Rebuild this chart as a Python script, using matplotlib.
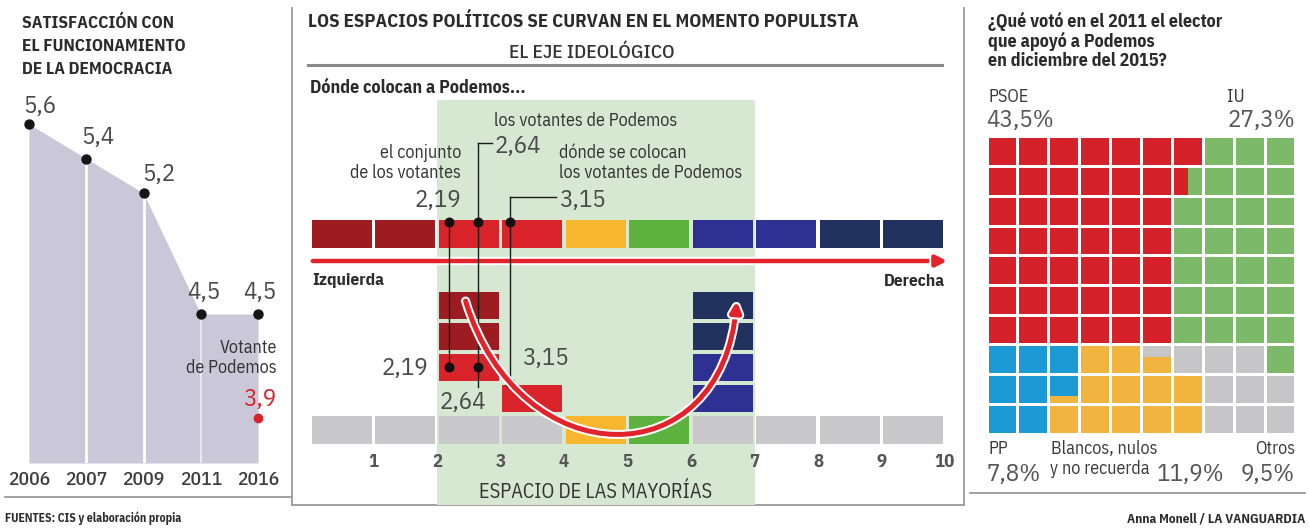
import matplotlib
matplotlib.use('Agg')
import matplotlib.pyplot as plt
from matplotlib.patches import Rectangle, FancyArrowPatch
from matplotlib.path import Path
import matplotlib.patheffects as pe

# ---------------- data ----------------
years = ['2006', '2007', '2009', '2011', '2016']
satisfaction = [5.6, 5.4, 5.2, 4.5, 4.5]
satisfaction_labels = ['5,6', '5,4', '5,2', '4,5', '4,5']
podemos_voter_satisfaction = 3.9
podemos_voter_label = '3,9'

scale_ticks = [1, 2, 3, 4, 5, 6, 7, 8, 9, 10]
axis_cells = ['dred', 'dred', 'red', 'red', 'yellow', 'green', 'blue', 'blue', 'navy', 'navy']
base_cells = ['grey', 'grey', 'grey', 'grey', 'yellow', 'green', 'grey', 'grey', 'grey', 'grey']
stack_cells = [(2, 2, 'red'), (2, 3, 'dred'), (2, 4, 'dred'), (3, 1, 'red'),
               (6, 1, 'blue'), (6, 2, 'blue'), (6, 3, 'navy'), (6, 4, 'navy')]
pos_all_voters = 2.19
pos_podemos_voters = 2.64
pos_self = 3.15
majority_space = (2, 7)

vote_parties = ['PSOE', 'IU', 'PP', 'Blancos, nulos\ny no recuerda', 'Otros']
vote_share = [43.5, 27.3, 7.8, 11.9, 9.5]
vote_labels = ['43,5%', '27,3%', '7,8%', '11,9%', '9,5%']
waffle_rows = ['RRRRRRRGGG',
               'RRRRRRaGGG',
               'RRRRRRGGGG',
               'RRRRRRGGGG',
               'RRRRRRGGGG',
               'RRRRRRGGGG',
               'RRRRRRGGGG',
               'BBBYYbOOOG',
               'BBcYYYYOOO',
               'BBYYYYYOOO']
waffle_split = {'a': ('R', 'G', 'v', 0.5), 'b': ('O', 'Y', 'h', 0.4), 'c': ('B', 'Y', 'h', 0.75)}

# ---------------- style ----------------
COND = ['IBM Plex Sans Condensed', 'DejaVu Sans']
NUM = ['IBM Plex Sans Condensed', 'DejaVu Sans']
ideo_col = {'dred': '#9c1c22', 'red': '#d9232b', 'yellow': '#f6b62d', 'green': '#5cb13f',
            'blue': '#2e3192', 'navy': '#22325f', 'grey': '#c8c8ca'}
waffle_col = {'R': '#d4212a', 'G': '#7cba69', 'B': '#1b9ad6', 'Y': '#f1b43e', 'O': '#c6c6c8'}
area_col = '#c9c7d8'
band_col = '#d6e8d1'
txt = '#2b2b2b'
numc = '#4a4a4a'
linec = '#9a9a9a'

W, H = 1309, 531
fig = plt.figure(figsize=(W / 100, H / 100), dpi=100)
fig.patch.set_facecolor('white')


def px_axes(x0, y0, x1, y1, z=1):
    a = fig.add_axes([x0 / W, 1 - y1 / H, (x1 - x0) / W, (y1 - y0) / H], zorder=z)
    a.patch.set_alpha(0)
    return a


ov = fig.add_axes([0, 0, 1, 1], zorder=0)
ov.set_xlim(0, W)
ov.set_ylim(H, 0)
ov.axis('off')

# separators
ov.plot([292, 292], [8, 505], color=linec, lw=1.3)
ov.plot([964, 964], [8, 505], color=linec, lw=1.3)
ov.plot([5, 292], [497, 497], color=linec, lw=1.3)
ov.plot([292, 964], [505, 505], color=linec, lw=1.3)
ov.plot([970, 1305], [493, 493], color=linec, lw=1.3)
ov.plot([308, 942], [65, 65], color='#8a8a8a', lw=2.2)

# ---------------- left panel ----------------
for i, line in enumerate(['SATISFACCIÓN CON', 'EL FUNCIONAMIENTO', 'DE LA DEMOCRACIA']):
    ov.text(22, 23 + 23.5 * i, line, family=COND, weight='bold', fontsize=12.5, color=txt, va='center')

axl = px_axes(22, 100, 285, 463)
x0p, dxp = 29, 57.25
axl.set_xlim((22 - x0p) / dxp, (285 - x0p) / dxp)
axl.set_ylim(4.5 - (463 - 314) / 172.7, 4.5 + (314 - 100) / 172.7)
idx = list(range(len(years)))
ybot = axl.get_ylim()[0]
axl.fill_between(idx, satisfaction, ybot, color=area_col, lw=0, zorder=1)
axl.vlines(idx[1:3], ybot, satisfaction[1:3], color='white', lw=2, zorder=2)
axl.vlines(idx[3], ybot, satisfaction[3], color='#eeeef4', lw=1.2, zorder=2)
axl.scatter(idx, satisfaction, s=42, color='#151515', zorder=4)
label_off = [(11, 18), (12, 21), (15, 19), (3, 22), (2, 22)]
for i, (v, lab) in enumerate(zip(satisfaction, satisfaction_labels)):
    axl.annotate(lab, (i, v), xytext=label_off[i], textcoords='offset pixels',
                 ha='center', va='center', fontsize=18, family=NUM, color=numc, zorder=5)
axl.scatter([idx[-1]], [podemos_voter_satisfaction], s=36, color='#d9232b', zorder=4)
axl.annotate(podemos_voter_label, (idx[-1], podemos_voter_satisfaction), xytext=(2, 18),
             textcoords='offset pixels', ha='center', va='center', fontsize=18,
             family=NUM, color='#d9232b', zorder=5)
axl.annotate('Votante', (idx[-1], podemos_voter_satisfaction), xytext=(19, 70),
             textcoords='offset pixels', ha='right', va='center', fontsize=13,
             family=COND, color='#333333')
axl.annotate('de Podemos', (idx[-1], podemos_voter_satisfaction), xytext=(19, 50),
             textcoords='offset pixels', ha='right', va='center', fontsize=13,
             family=COND, color='#333333')
axl.set_xticks(idx, years)
axl.tick_params(axis='x', length=0, pad=6, labelsize=14, labelcolor='#3c3c3c')
for t in axl.get_xticklabels():
    t.set_family(NUM)
    t.set_weight('medium')
axl.set_yticks([])
for s in axl.spines.values():
    s.set_visible(False)

ov.text(5, 518, 'FUENTES: CIS y elaboración propia', family=COND, weight='bold', fontsize=8.5,
        color=txt, va='center')

# ---------------- middle panel ----------------
ov.text(308, 22, 'LOS ESPACIOS POLÍTICOS SE CURVAN EN EL MOMENTO POPULISTA', family=COND,
        weight='bold', fontsize=13.5, color=txt, va='center')
ov.text(592, 53, 'EL EJE IDEOLÓGICO', family=COND, fontsize=14, weight='medium', color='#333333',
        va='center', ha='center')
ov.text(310, 88, 'Dónde colocan a Podemos...', family=COND, weight='bold', fontsize=13,
        color=txt, va='center')

axm = px_axes(310, 0, 945, H)
axm.set_xlim(0, 10)
axm.set_ylim(H, 0)
axm.axis('off')

# majority band
axm.bar((majority_space[0] + majority_space[1]) / 2, 405, bottom=100,
        width=majority_space[1] - majority_space[0], color=band_col, lw=0, zorder=0)

# top ideological axis
cx = [i + 0.5 for i in range(10)]
axm.bar(cx, 28, bottom=220, width=0.95, color=[ideo_col[c] for c in axis_cells], lw=0, zorder=2)
# base row and stacks
row_top = lambda r: 416 - 31 * r
axm.bar(cx, 28, bottom=row_top(0), width=0.95, color=[ideo_col[c] for c in base_cells], lw=0, zorder=2)
for col, r, c in stack_cells:
    axm.bar(col + 0.5, 27, bottom=row_top(r), width=0.95, color=ideo_col[c], lw=0, zorder=2)

# red arrow axis
arr = FancyArrowPatch((0, 261), (10.08, 261), arrowstyle='-|>', mutation_scale=16, lw=3.2,
                      color='#e3232b', zorder=3,
                      path_effects=[pe.Stroke(linewidth=6, foreground='white'), pe.Normal()])
axm.add_patch(arr)
axm.text(0.03, 281, 'Izquierda', family=COND, weight='bold', fontsize=12.5, color=txt, va='center')
axm.text(10, 281, 'Derecha', family=COND, weight='bold', fontsize=12.5, color=txt, va='center', ha='right')

# markers and leader lines
lk = dict(color='#1a1a1a', lw=1.0, zorder=4)
axm.plot([pos_all_voters, pos_all_voters], [222, 367], **lk)
axm.plot([pos_podemos_voters, pos_podemos_voters], [143, 387], **lk)
axm.plot([pos_podemos_voters, 2.86], [143, 143], **lk)
axm.plot([pos_self, pos_self], [197, 383], **lk)
axm.plot([pos_self, 3.87], [197, 197], **lk)
axm.scatter([pos_all_voters, pos_podemos_voters, pos_self], [222, 222, 222], s=38, color='#111111', zorder=5)
axm.scatter([pos_all_voters, pos_podemos_voters, pos_self], [367, 367, 383], s=38, color='#111111', zorder=5)

fmt = lambda v: f'{v:.2f}'.replace('.', ',')
lt = dict(family=COND, fontsize=13, color='#333333', va='center')
bn = dict(family=NUM, fontsize=18, color=numc, va='center')
axm.text(2.9, 121, 'los votantes de Podemos', **lt)
axm.text(2.9, 147, fmt(pos_podemos_voters), **bn)
axm.text(2.38, 153, 'el conjunto', ha='right', **lt)
axm.text(2.38, 173, 'de los votantes', ha='right', **lt)
axm.text(2.38, 200, fmt(pos_all_voters), ha='right', **bn)
axm.text(3.92, 153, 'dónde se colocan', **lt)
axm.text(3.92, 173, 'los votantes de Podemos', **lt)
axm.text(3.92, 200, fmt(pos_self), **bn)
axm.text(1.86, 368, fmt(pos_all_voters), ha='right', **bn)
axm.text(2.04, 403, fmt(pos_podemos_voters), **bn)
axm.text(3.34, 359, fmt(pos_self), **bn)

# U-shaped arrow
upath = Path([(2.45, 301), (3.3, 478), (6.5, 478), (6.72, 301)],
             [Path.MOVETO, Path.CURVE4, Path.CURVE4, Path.CURVE4])
uarr = FancyArrowPatch(path=upath, arrowstyle='-|>', mutation_scale=15, lw=3.6, color='#e3232b',
                       zorder=6, path_effects=[pe.Stroke(linewidth=6.5, foreground='white'), pe.Normal()])
axm.add_patch(uarr)

for t in scale_ticks:
    axm.text(t, 462, str(t), family=NUM, weight='bold', fontsize=13.5, color='#555555',
             ha='center', va='center')
axm.text(4.5, 492, 'ESPACIO DE LAS MAYORÍAS', family=COND, fontsize=14.5, color='#333333',
         ha='center', va='center')

# ---------------- right panel ----------------
for i, line in enumerate(['¿Qué votó en el 2011 el elector', 'que apoyó a Podemos',
                          'en diciembre del 2015?']):
    ov.text(988, 21 + 20 * i, line, family=COND, weight='bold', fontsize=13, color=txt, va='center')

axw = px_axes(987, 137, 1296, 434)
axw.set_xlim(0, 10)
axw.set_ylim(10, 0)
axw.axis('off')
g = 0.1
for r, row in enumerate(waffle_rows):
    for c, code in enumerate(row):
        x, y, s = c + g / 2, r + g / 2, 1 - g
        if code in waffle_split:
            a, b, d, f = waffle_split[code]
            if d == 'v':
                axw.add_patch(Rectangle((x, y), s * f, s, color=waffle_col[a], lw=0))
                axw.add_patch(Rectangle((x + s * f, y), s * (1 - f), s, color=waffle_col[b], lw=0))
            else:
                axw.add_patch(Rectangle((x, y), s, s * f, color=waffle_col[a], lw=0))
                axw.add_patch(Rectangle((x, y + s * f), s, s * (1 - f), color=waffle_col[b], lw=0))
        else:
            axw.add_patch(Rectangle((x, y), s, s, color=waffle_col[code], lw=0))

lab = dict(family=COND, fontsize=13, color='#3a3a3a', va='center')
big = dict(family=NUM, fontsize=18, color='#555555', va='center')
ov.text(988, 97, vote_parties[0], **lab)
ov.text(986, 121, vote_labels[0], **big)
ov.text(1227, 97, vote_parties[1], **lab)
ov.text(1295, 121, vote_labels[1], ha='right', **big)
ov.text(988, 449, vote_parties[2], **lab)
ov.text(986, 474, vote_labels[2], **big)
pl = vote_parties[3].split('\n')
ov.text(1051, 449, pl[0], **lab)
ov.text(1050, 469, pl[1], **lab)
ov.text(1224, 475, vote_labels[3], ha='right', **big)
ov.text(1295, 449, vote_parties[4], ha='right', **lab)
ov.text(1295, 475, vote_labels[4], ha='right', **big)

ov.text(1305, 519, 'Anna Monell / LA VANGUARDIA', family=COND, weight='bold', fontsize=9.5,
        color=txt, va='center', ha='right')

fig.savefig('out.png', dpi=100, facecolor='white')
